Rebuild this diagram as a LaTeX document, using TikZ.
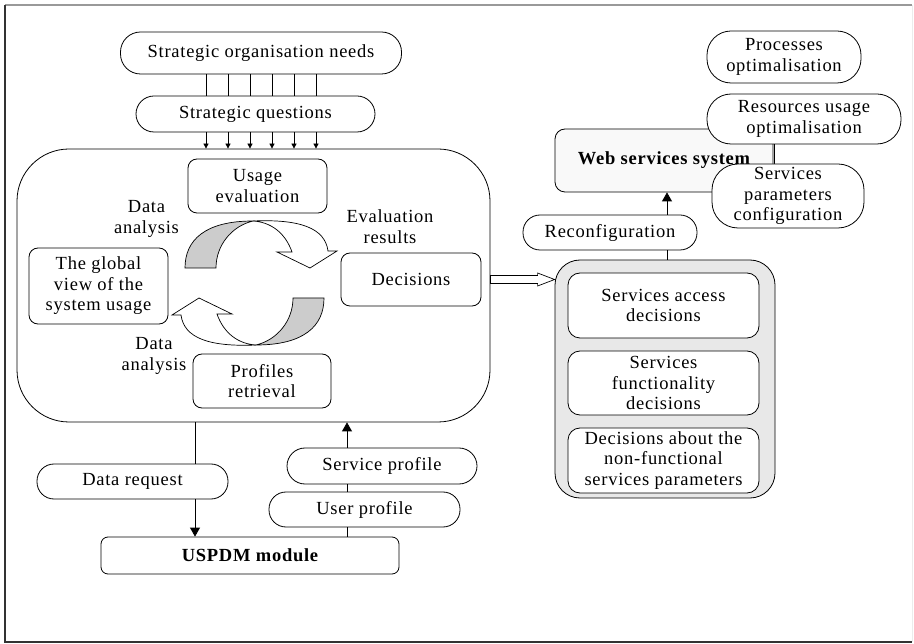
\documentclass[tikz,border=0pt]{standalone}
\usepackage{fontspec}
\setmainfont{Liberation Serif}[LetterSpace=4]
\usetikzlibrary{arrows.meta,calc}

\begin{document}
\begin{tikzpicture}[x=1pt,y=-1pt,line width=0.8pt,
  lbl/.style={font=\fontsize{18.5}{20.5}\selectfont, align=center, inner sep=0pt},
  boldlbl/.style={font=\fontsize{18.5}{20.5}\selectfont\bfseries},
  oval/.style={lbl, draw, fill=white, rounded corners=#1}, oval/.default=17,
  box/.style={lbl, draw, fill=white, rounded corners=9},
  sizer/.style 2 args={minimum width=#1, minimum height=#2},
  bigtip/.style={-{Triangle[length=9pt,width=10pt]}},
  smalltip/.style={-{Triangle[length=5pt,width=5pt]}},
  band/.style={line width=0.7pt}]
\useasboundingbox (0,0) rectangle (914,644);

% frame
\draw[gray!15, line width=0.8pt] (912,5) -- (912,642);
\draw[gray!80, line width=1.5pt] (5,5) -- (912,5);
\draw[black!80, line width=1.2pt] (5,5) -- (5,642) -- (912,642);

% strategic inputs
\node[oval=20, sizer={281}{42}] (needs) at (261,53) {Strategic organisation needs};
\node[oval=18, sizer={239}{36}] (quest) at (255.5,114) {Strategic questions};

% analysis block
\node[draw, rounded corners=52, sizer={473}{273}] (core) at (253.5,285.5) {};
\foreach \d in {-55,-33,-11,11,33,55} {
  \draw ([xshift=\d pt]needs.south) -- ([xshift=\d pt]needs.south |- quest.north);
  \draw[smalltip] ([xshift=\d pt]needs.south |- quest.south) -- ([xshift=\d pt]needs.south |- core.north);
}
\node[box, sizer={139}{54}] (usage) at (257.5,186) {Usage\\evaluation};
\node[box, sizer={139}{76}] (global) at (98.5,286) {The global\\view of the\\system usage};
\node[box, sizer={138}{54}] (prof) at (262,381) {Profiles\\retrieval};
\node[box, sizer={140}{53}] (dec) at (411,279.5) {Decisions};
\node[lbl] (da1) at (146.5,219) {Data\\analysis};
\node[lbl] (da2) at (154,356) {Data\\analysis};
\node[lbl] (evr) at (390,226.5) {Evaluation\\results};

% cycle of two curved arrows
\foreach \ang in {0,180} {
  \begin{scope}[rotate around={\ang:(254.5,283)}, band]
    \filldraw[fill=gray!40] (185,268) .. controls (185,240) and (205,221) .. (253,221)
      .. controls (232,226) and (216,245) .. (216,268) -- cycle;
    \filldraw[fill=white] (253,221) .. controls (300,219) and (325,228) .. (328,251)
      -- (337,251) -- (310,268) -- (277,252) -- (292,252)
      .. controls (285,232) and (270,222) .. (253,221) -- cycle;
  \end{scope}
}

% decision panel
\node[draw, fill=gray!18, rounded corners=25, sizer={220}{238}] (panel) at (665,379) {};
\node[box, rounded corners=12, sizer={191}{65}] (acc) at (663.5,305.5) {Services access\\decisions};
\node[box, rounded corners=12, sizer={191}{64}] (func) at (663.5,383) {Services\\functionality\\decisions};
\node[box, rounded corners=12, sizer={191}{65}] (nonf) at (663.5,460.5) {Decisions about the\\non-functional\\services parameters};

% hollow arrow from the decisions to the panel
\coordinate (hs) at (dec.east -| core.east);
\coordinate (ht) at (dec.east -| panel.west);
\draw[fill=white, line width=0.7pt] ($(hs)+(0,-4)$) -- ($(ht)+(-17,-4)$) -- ($(ht)+(-17,-6.5)$)
  -- (ht) -- ($(ht)+(-17,6.5)$) -- ($(ht)+(-17,4)$) -- ($(hs)+(0,4)$) -- cycle;

% web services side
\node[box, fill=gray!5, rounded corners=10, sizer={218}{63}, boldlbl] (web) at (664,160.5) {Web services system};
\node[oval=24, sizer={154}{52}] (proc) at (784,57) {Processes\\optimalisation};
\node[oval=24, sizer={194}{50}] (res) at (804,119) {Resources usage\\optimalisation};
\coordinate (rc) at (774,0);
\draw (res.south -| rc) -- ($(res.south -| rc)+(0,20)$) coordinate (rcend);
\node[oval=26, sizer={152}{64}] (spc) at (788,196) {Services\\parameters\\configuration};
\node[oval=17, sizer={174}{35}] (recon) at (610,232.5) {Reconfiguration};
\coordinate (rx) at (667,0);
\draw (recon.south -| rx) -- (panel.north -| rx);
\draw[bigtip] (recon.north -| rx) -- (web.south -| rx);

% data exchange with the module
\node[oval=17, sizer={191}{35}] (dreq) at (132.5,481.5) {Data request};
\node[oval=18, sizer={190}{36}] (sprof) at (382,466) {Service profile};
\node[oval=17, sizer={191}{35}] (uprof) at (364.5,509.5) {User profile};
\node[box, rounded corners=7, sizer={298}{37}, boldlbl] (uspdm) at (250,555.5) {USPDM module};
\coordinate (dx) at (195,0);
\draw (core.south -| dx) -- (dreq.north -| dx);
\draw[bigtip] (dreq.south -| dx) -- (uspdm.north -| dx);
\coordinate (ux) at (347,0);
\draw (uspdm.north -| ux) -- (uprof.south -| ux);
\draw (uprof.north -| ux) -- (sprof.south -| ux);
\draw[bigtip] (sprof.north -| ux) -- (core.south -| ux);
\end{tikzpicture}
\end{document}
